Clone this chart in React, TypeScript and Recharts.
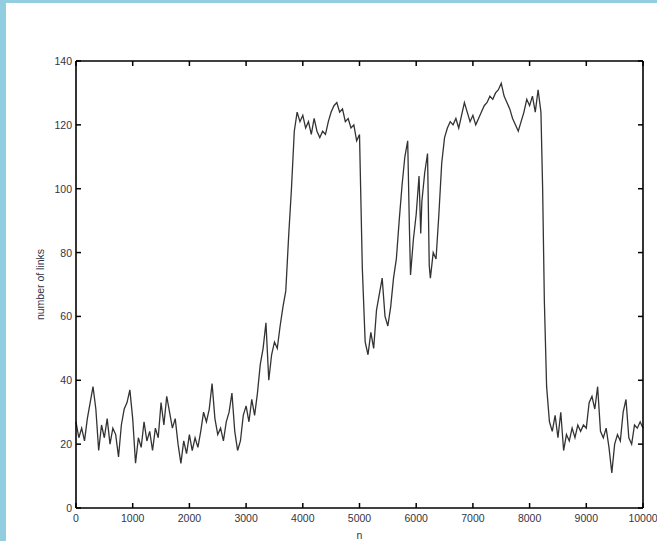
import React from "react";
import { LineChart, Line, XAxis, YAxis } from "recharts";

const nValues: number[] = [
  0, 50, 100, 150, 200, 250, 300, 350, 400, 450, 500, 550, 600, 650, 700, 750, 800, 850, 900, 950,
  1000, 1050, 1100, 1150, 1200, 1250, 1300, 1350, 1400, 1450, 1500, 1550, 1600, 1650, 1700, 1750, 1800, 1850, 1900, 1950,
  2000, 2050, 2100, 2150, 2200, 2250, 2300, 2350, 2400, 2450, 2500, 2550, 2600, 2650, 2700, 2750, 2800, 2850, 2900, 2950,
  3000, 3050, 3100, 3150, 3200, 3250, 3300, 3350, 3400, 3450, 3500, 3550, 3600, 3650, 3700, 3750, 3800, 3850, 3900, 3950,
  4000, 4050, 4100, 4150, 4200, 4250, 4300, 4350, 4400, 4450, 4500, 4550, 4600, 4650, 4700, 4750, 4800, 4850, 4900, 4950,
  5000, 5050, 5100, 5150, 5200, 5250, 5300, 5350, 5400, 5450, 5500, 5550, 5600, 5650, 5700, 5750, 5800, 5850, 5880, 5900, 5950,
  6000, 6050, 6080, 6100, 6150, 6200, 6230, 6250, 6300, 6350, 6400, 6450, 6500, 6550, 6600, 6650, 6700, 6750, 6800, 6850, 6900, 6950,
  7000, 7050, 7100, 7150, 7200, 7250, 7300, 7350, 7400, 7450, 7500, 7550, 7600, 7650, 7700, 7750, 7800, 7850, 7900, 7950,
  8000, 8050, 8100, 8150, 8200, 8230, 8260, 8300, 8350, 8400, 8450, 8500, 8550, 8600, 8650, 8700, 8750, 8800, 8850, 8900, 8950,
  9000, 9050, 9100, 9150, 9200, 9250, 9300, 9350, 9400, 9450, 9500, 9550, 9600, 9650, 9700, 9750, 9800, 9850, 9900, 9950, 10000,
];

const linkCounts: number[] = [
  27, 22, 25, 21, 28, 33, 38, 31, 18, 26, 22, 28, 20, 25, 23, 16, 26, 31, 33, 37,
  28, 14, 22, 19, 27, 21, 24, 18, 25, 22, 33, 26, 35, 30, 25, 28, 20, 14, 21, 17,
  23, 18, 22, 19, 24, 30, 27, 31, 39, 28, 23, 25, 21, 27, 30, 36, 24, 18, 21, 29,
  32, 27, 34, 29, 36, 45, 50, 58, 40, 48, 52, 50, 57, 63, 68, 85, 100, 118, 124, 121,
  123, 119, 121, 117, 122, 118, 116, 118, 117, 121, 124, 126, 127, 124, 125, 121, 122, 119, 120, 115,
  117, 75, 52, 48, 55, 50, 62, 67, 72, 60, 57, 63, 72, 78, 90, 101, 110, 115, 88, 73, 84,
  92, 104, 86, 96, 105, 111, 76, 72, 80, 78, 92, 108, 116, 119, 121, 120, 122, 119, 123, 127, 124, 121,
  123, 120, 122, 124, 126, 127, 129, 128, 130, 131, 133, 129, 127, 125, 122, 120, 118, 121, 124, 128,
  126, 129, 124, 131, 124, 100, 65, 38, 27, 24, 29, 22, 30, 18, 23, 21, 25, 22, 26, 24, 26,
  25, 33, 35, 31, 38, 24, 22, 25, 19, 11, 20, 23, 21, 30, 34, 22, 20, 26, 25, 27, 25,
];

const xTicks: number[] = [0, 1000, 2000, 3000, 4000, 5000, 6000, 7000, 8000, 9000, 10000];
const yTicks: number[] = [0, 20, 40, 60, 80, 100, 120, 140];

const data = nValues.map((n, i) => ({ n, links: linkCounts[i] }));

const FONT = "'Liberation Sans', Arial, sans-serif";
const TEXT = "#333344";
const TICK_LEN = 5;
const AXIS_LINE = { stroke: "#000", strokeWidth: 1.6 };

const BottomTick = (props: any) => {
  const { x, y, payload } = props;
  return (
    <g>
      <line x1={x} x2={x} y1={y} y2={y - TICK_LEN} stroke="#000" strokeWidth={1.5} />
      <text x={x} y={y + 14} textAnchor="middle" fontSize={10.5} fontFamily={FONT} fill={TEXT}>
        {payload.value}
      </text>
    </g>
  );
};

const TopTick = (props: any) => {
  const { x, y } = props;
  return <line x1={x} x2={x} y1={y} y2={y + TICK_LEN} stroke="#000" strokeWidth={1.5} />;
};

const LeftTick = (props: any) => {
  const { x, y, payload } = props;
  return (
    <g>
      <line x1={x} x2={x + TICK_LEN} y1={y} y2={y} stroke="#000" strokeWidth={1.5} />
      <text x={x - 4} y={y + 4} textAnchor="end" fontSize={10.5} fontFamily={FONT} fill={TEXT}>
        {payload.value}
      </text>
    </g>
  );
};

const RightTick = (props: any) => {
  const { x, y } = props;
  return <line x1={x} x2={x - TICK_LEN} y1={y} y2={y} stroke="#000" strokeWidth={1.5} />;
};

export default function App() {
  return (
    <div
      style={{
        position: "absolute",
        left: 0,
        top: 0,
        width: 657,
        height: 541,
        background: "#93cde0",
      }}
    >
      <div
        style={{
          position: "absolute",
          left: 6,
          top: 3,
          width: 651,
          height: 538,
          background: "#ffffff",
        }}
      />
      <div style={{ position: "absolute", left: 0, top: 0 }}>
        <LineChart
          width={657}
          height={541}
          data={data}
          margin={{ top: 59, right: 12, bottom: 3, left: 0 }}
        >
          <XAxis
            dataKey="n"
            type="number"
            domain={[0, 10000]}
            ticks={xTicks}
            interval={0}
            height={30}
            tickSize={0}
            tickMargin={0}
            tickLine={false}
            axisLine={AXIS_LINE}
            tick={<BottomTick />}
            label={{ value: "n", position: "insideBottom", offset: -1, fontSize: 10.5, fontFamily: FONT, fill: TEXT }}
          />
          <XAxis
            xAxisId="top"
            orientation="top"
            dataKey="n"
            type="number"
            domain={[0, 10000]}
            ticks={xTicks}
            interval={0}
            height={2}
            tickSize={0}
            tickMargin={0}
            tickLine={false}
            axisLine={AXIS_LINE}
            tick={<TopTick />}
          />
          <YAxis
            type="number"
            domain={[0, 140]}
            ticks={yTicks}
            interval={0}
            width={76}
            tickSize={0}
            tickMargin={0}
            tickLine={false}
            axisLine={AXIS_LINE}
            tick={<LeftTick />}
            label={{
              value: "number of links",
              angle: -90,
              position: "center",
              dx: 2,
              fontSize: 10.5,
              fontFamily: FONT,
              fill: TEXT,
            }}
          />
          <YAxis
            yAxisId="right"
            orientation="right"
            type="number"
            domain={[0, 140]}
            ticks={yTicks}
            interval={0}
            width={2}
            tickSize={0}
            tickMargin={0}
            tickLine={false}
            axisLine={AXIS_LINE}
            tick={<RightTick />}
          />
          <Line
            type="linear"
            dataKey="links"
            stroke="#333333"
            strokeWidth={1.3}
            dot={false}
            isAnimationActive={false}
          />
          <Line
            xAxisId="top"
            yAxisId="right"
            type="linear"
            dataKey="links"
            stroke="none"
            strokeWidth={0}
            dot={false}
            legendType="none"
            isAnimationActive={false}
          />
        </LineChart>
      </div>
    </div>
  );
}
